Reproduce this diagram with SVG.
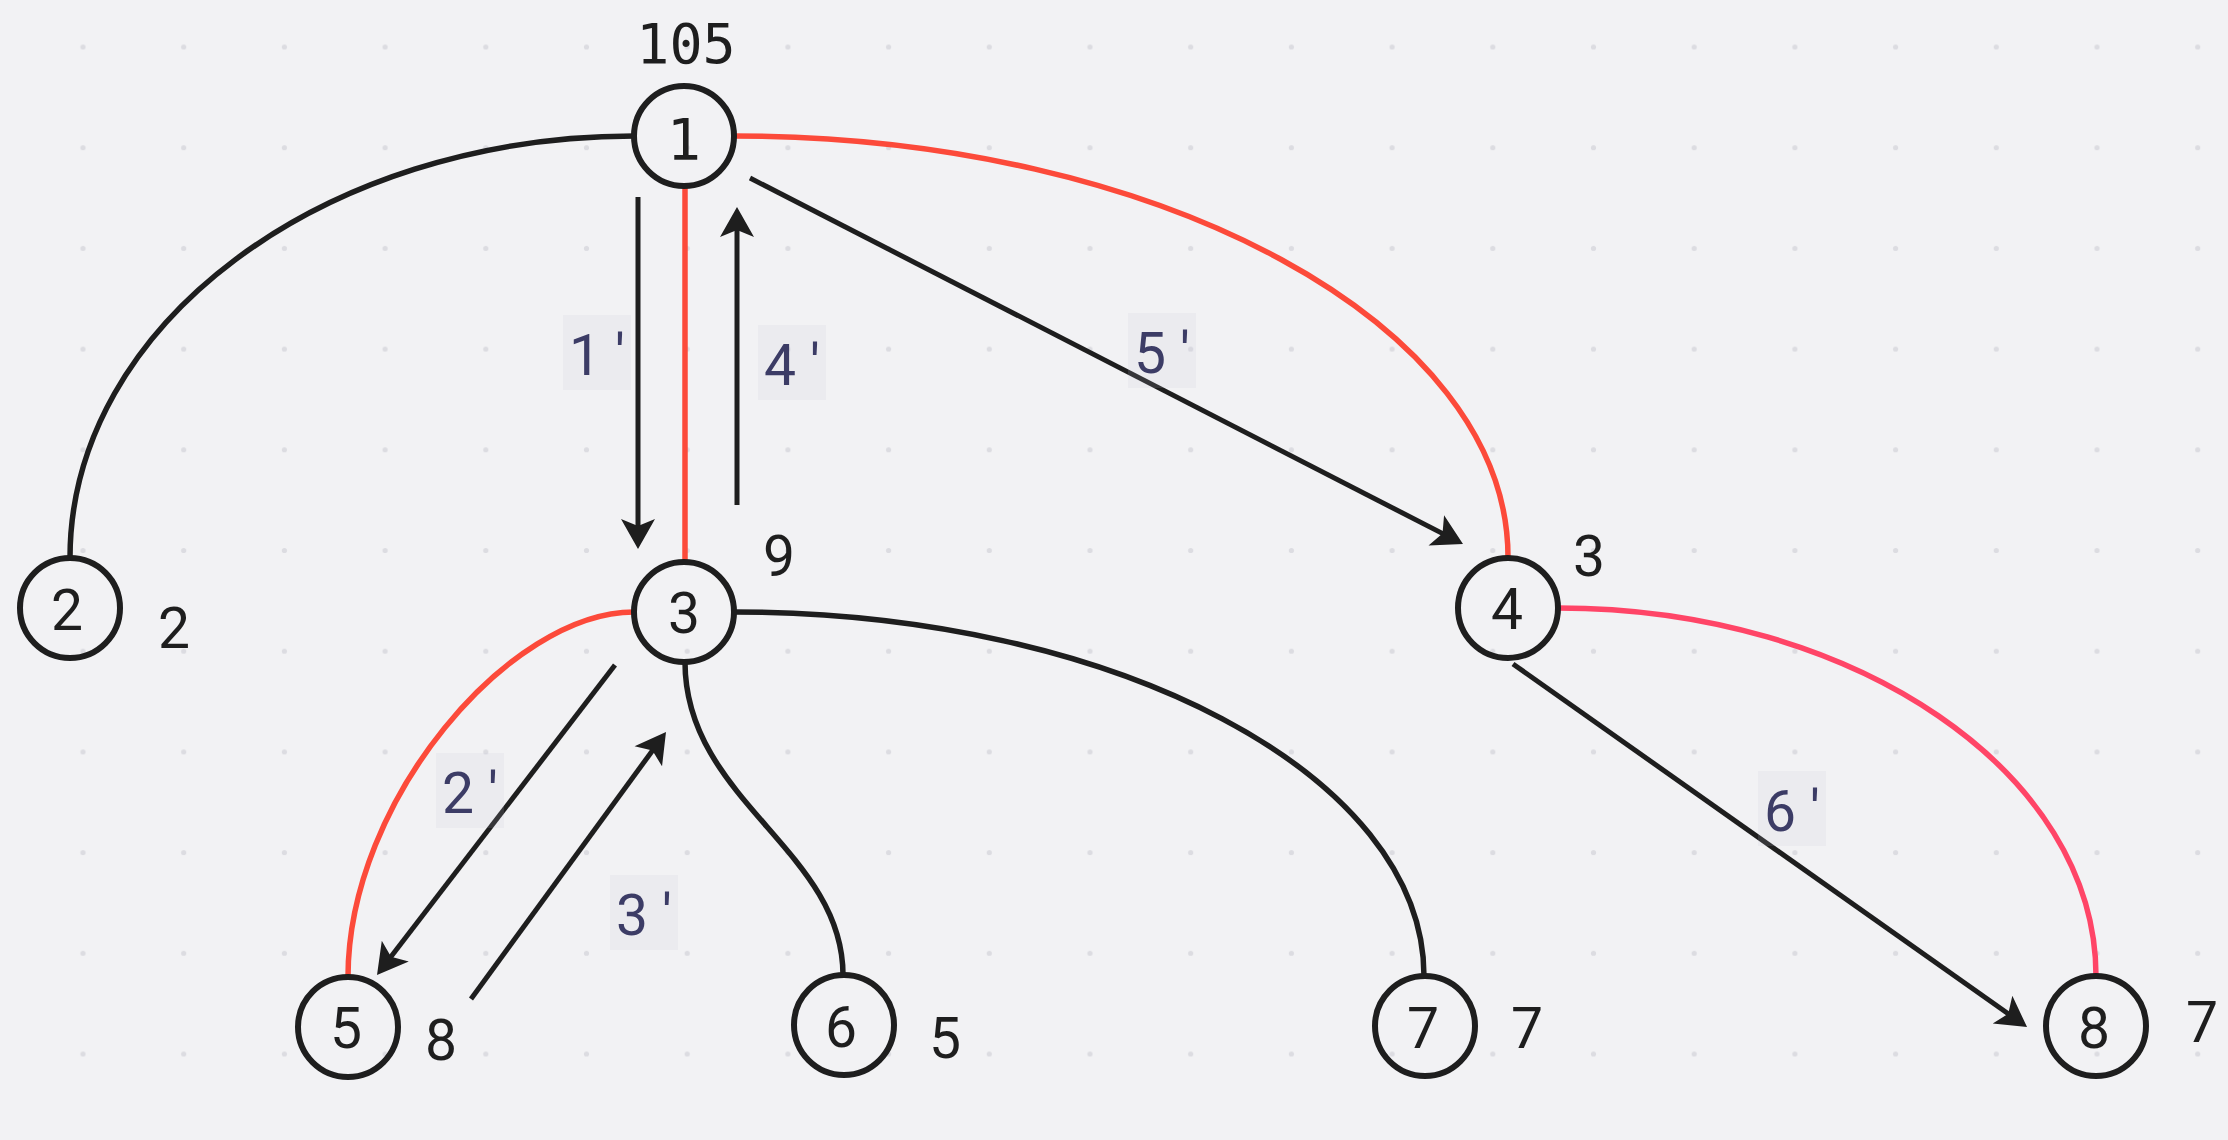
<svg xmlns="http://www.w3.org/2000/svg" width="2228" height="1140" viewBox="0 0 2228 1140">
<style>
.node circle{fill:none;stroke:#1e1e1e;stroke-width:6}
.nl{font-family:Roboto,"Liberation Sans",sans-serif;font-size:57px;font-weight:400;fill:#1e1e1e;text-anchor:middle}
.w{font-family:Roboto,"Liberation Sans",sans-serif;font-size:57px;font-weight:400;fill:#1e1e1e;text-anchor:middle}
text.mono{font-family:"DejaVu Sans Mono",monospace;font-weight:400}
.e{fill:none;stroke-width:5.5;stroke-linecap:butt}
.k{stroke:#1e1e1e}
.r{stroke:#fc4a3a}
.p{stroke:#ff4567}
.a{fill:none;stroke:#1e1e1e;stroke-width:5;marker-end:url(#ah)}
.lb rect{fill:#c3c3da;fill-opacity:0.15}
.lb text{font-family:Roboto,"Liberation Sans",sans-serif;font-size:57px;font-weight:400;fill:#3c3c66;text-anchor:middle}
</style>
<defs>
<pattern id="grid" patternUnits="userSpaceOnUse" x="32.65" y="-3.35" width="100.7" height="100.7">
<circle cx="50.35" cy="50.35" r="2.6" fill="#dcdce1"/>
</pattern>
<marker id="ah" markerUnits="userSpaceOnUse" orient="auto" refX="0" refY="0" markerWidth="80" markerHeight="80" viewBox="-40 -40 80 80" overflow="visible">
<path d="M20,0 L-10,-17 L-3,0 L-10,17 Z" fill="#1e1e1e"/>
</marker>
</defs>
<rect width="2228" height="1140" fill="#f2f2f4"/>
<rect width="2228" height="1140" fill="url(#grid)"/>
<g id="connectors">
<path class="e k" d="M634,136 C323,136 70,325 70,558"/>
<path class="e r" d="M734,136 C1161,136 1508,325 1508,557"/>
<path class="e r" d="M685,186 L685,562"/>
<path class="e r" d="M634,612 C510,612 348,800 348,977"/>
<path class="e k" d="M685,662 C685,800 843,850 843,975"/>
<path class="e k" d="M734,612 C1115,612 1424,775 1424,976"/>
<path class="e p" d="M1558,608 C1855,608 2096,773 2096,976"/>
<path class="a" d="M638,197 L638,529"/>
<path class="a" d="M737,505 L737,227"/>
<path class="a" d="M750,178 L1445.2,534.9"/>
<path class="a" d="M1513,664 L2010.7,1015.5"/>
<path class="a" d="M615,665 L389.2,959.1"/>
<path class="a" d="M471,999 L654.2,748.2"/>
<g class="lb" id="l1"><rect x="563" y="315" width="68" height="75"/><text x="597" y="375">1 '</text></g>
<g class="lb" id="l4"><rect x="758" y="325" width="68" height="75"/><text x="792" y="385">4 '</text></g>
<g class="lb" id="l5"><rect x="1128" y="313" width="68" height="75"/><text x="1162" y="373">5 '</text></g>
<g class="lb" id="l6"><rect x="1758" y="771" width="68" height="75"/><text x="1792" y="831">6 '</text></g>
<g class="lb" id="l2"><rect x="436" y="753" width="68" height="75"/><text x="470" y="813">2 '</text></g>
<g class="lb" id="l3"><rect x="610" y="875" width="68" height="75"/><text x="644" y="935">3 '</text></g>
</g>
<g id="n1" class="node"><circle cx="684" cy="136" r="50"/><text class="nl mono" x="684" y="160">1</text><text class="w mono" x="686" y="63" style="font-size:55px">105</text></g>
<g id="n2" class="node"><circle cx="70" cy="608" r="50"/><text class="nl" x="67" y="630">2</text><text class="w" x="174" y="648">2</text></g>
<g id="n3" class="node"><circle cx="684" cy="612" r="50"/><text class="nl" x="684" y="633">3</text><text class="w" x="779" y="576">9</text></g>
<g id="n4" class="node"><circle cx="1508" cy="608" r="50"/><text class="nl" x="1507" y="629">4</text><text class="w" x="1589" y="576">3</text></g>
<g id="n5" class="node"><circle cx="348" cy="1027" r="50"/><text class="nl" x="346" y="1048">5</text><text class="w" x="441" y="1060">8</text></g>
<g id="n6" class="node"><circle cx="844" cy="1025" r="50"/><text class="nl" x="841" y="1047">6</text><text class="w" x="945" y="1058">5</text></g>
<g id="n7" class="node"><circle cx="1425" cy="1026" r="50"/><text class="nl" x="1423" y="1048">7</text><text class="w" x="1527" y="1048">7</text></g>
<g id="n8" class="node"><circle cx="2096" cy="1026" r="50"/><text class="nl" x="2094" y="1048">8</text><text class="w" x="2202" y="1042">7</text></g>
</svg>
